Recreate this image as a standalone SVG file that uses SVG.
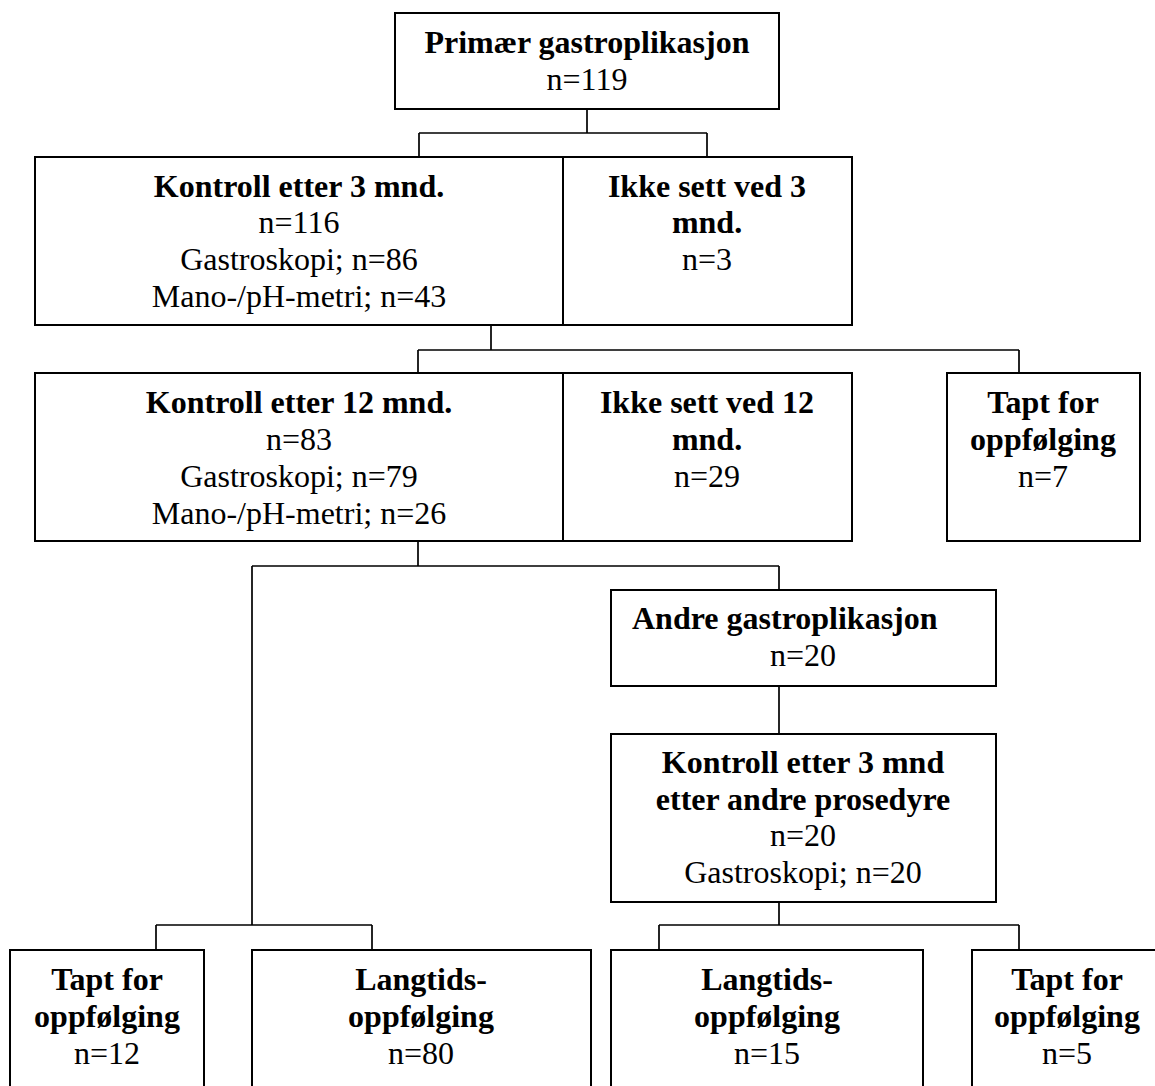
<svg xmlns="http://www.w3.org/2000/svg" width="1155" height="1086" viewBox="0 0 1155 1086">
<style>
.box{fill:#fff;stroke:#000;stroke-width:2}
.div{stroke:#000;stroke-width:2;fill:none}
.con{stroke:#000;stroke-width:1.7;fill:none}
text{font-family:"Liberation Serif","Times New Roman",serif;font-size:32px;fill:#000;text-anchor:middle}
.b{font-weight:bold}
</style>
<rect width="1155" height="1086" fill="#fff"/>
<g id="connectors">
<path class="con" d="M587 109V133M419 133H707M419 133V157M707 133V157"/>
<path class="con" d="M491 325V350M418 350H1019M418 350V373M1019 350V373"/>
<path class="con" d="M418 541V566M252 566H779M252 566V925M779 566V590"/>
<path class="con" d="M779 686V734"/>
<path class="con" d="M156 925H372M156 925V950M372 925V950"/>
<path class="con" d="M779 902V925M659 925H1019M659 925V950M1019 925V950"/>
</g>
<g id="n-primaer">
<rect class="box" x="395" y="13" width="384" height="96"/>
<text x="587" y="53" class="b">Primær gastroplikasjon</text>
<text x="587" y="90">n=119</text>
</g>
<g id="n-kontroll3">
<rect class="box" x="35" y="157" width="528" height="168"/>
<text x="299" y="197" class="b">Kontroll etter 3 mnd.</text>
<text x="299" y="233">n=116</text>
<text x="299" y="270">Gastroskopi; n=86</text>
<text x="299" y="307">Mano-/pH-metri; n=43</text>
</g>
<g id="n-ikke3">
<rect class="box" x="563" y="157" width="289" height="168"/>
<text x="707" y="197" class="b">Ikke sett ved 3</text>
<text x="707" y="233" class="b">mnd.</text>
<text x="707" y="270">n=3</text>
</g>
<g id="n-kontroll12">
<rect class="box" x="35" y="373" width="528" height="168"/>
<text x="299" y="413" class="b">Kontroll etter 12 mnd.</text>
<text x="299" y="450">n=83</text>
<text x="299" y="487">Gastroskopi; n=79</text>
<text x="299" y="524">Mano-/pH-metri; n=26</text>
</g>
<g id="n-ikke12">
<rect class="box" x="563" y="373" width="289" height="168"/>
<text x="707" y="413" class="b">Ikke sett ved 12</text>
<text x="707" y="450" class="b">mnd.</text>
<text x="707" y="487">n=29</text>
</g>
<g id="n-tapt7">
<rect class="box" x="947" y="373" width="193" height="168"/>
<text x="1043" y="413" class="b">Tapt for</text>
<text x="1043" y="450" class="b">oppfølging</text>
<text x="1043" y="487">n=7</text>
</g>
<g id="n-andre">
<rect class="box" x="611" y="590" width="385" height="96"/>
<text x="632" y="629" class="b" style="text-anchor:start">Andre gastroplikasjon</text>
<text x="803" y="666">n=20</text>
</g>
<g id="n-kontroll3b">
<rect class="box" x="611" y="734" width="385" height="168"/>
<text x="803" y="773" class="b">Kontroll etter 3 mnd</text>
<text x="803" y="810" class="b">etter andre prosedyre</text>
<text x="803" y="846">n=20</text>
<text x="803" y="883">Gastroskopi; n=20</text>
</g>
<g id="n-tapt12">
<rect class="box" x="10" y="950" width="194" height="160"/>
<text x="107" y="990" class="b">Tapt for</text>
<text x="107" y="1027" class="b">oppfølging</text>
<text x="107" y="1064">n=12</text>
</g>
<g id="n-lang80">
<rect class="box" x="252" y="950" width="339" height="160"/>
<text x="421" y="990" class="b">Langtids-</text>
<text x="421" y="1027" class="b">oppfølging</text>
<text x="421" y="1064">n=80</text>
</g>
<g id="n-lang15">
<rect class="box" x="611" y="950" width="312" height="160"/>
<text x="767" y="990" class="b">Langtids-</text>
<text x="767" y="1027" class="b">oppfølging</text>
<text x="767" y="1064">n=15</text>
</g>
<g id="n-tapt5">
<rect class="box" x="972" y="950" width="200" height="160"/>
<text x="1067" y="990" class="b">Tapt for</text>
<text x="1067" y="1027" class="b">oppfølging</text>
<text x="1067" y="1064">n=5</text>
</g>
</svg>
